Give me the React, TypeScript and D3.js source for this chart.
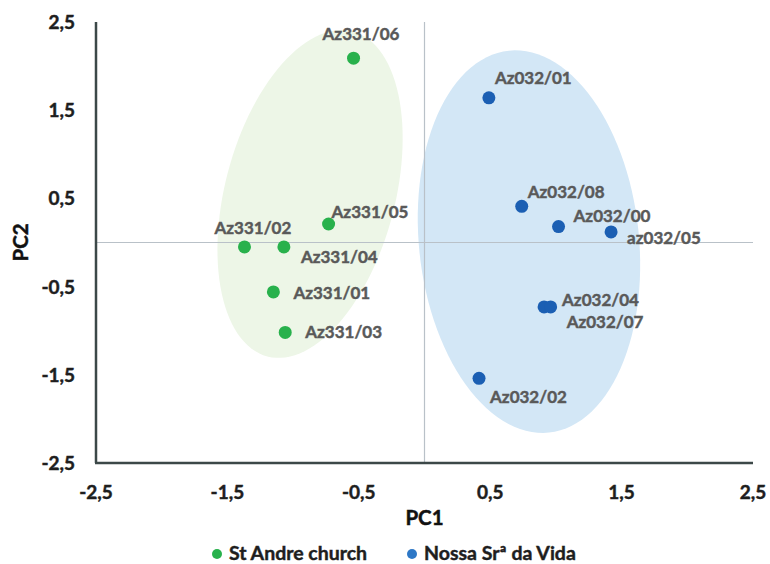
import React from "react";
import * as d3 from "d3";

// PCA scores for the two sampling groups
const stAndreNames = ["Az331/06", "Az331/05", "Az331/02", "Az331/04", "Az331/01", "Az331/03"];
const stAndrePC1 = [-0.54, -0.73, -1.37, -1.07, -1.15, -1.06];
const stAndrePC2 = [2.09, 0.21, -0.05, -0.05, -0.56, -1.02];

const nossaNames = ["Az032/01", "Az032/08", "Az032/00", "az032/05", "Az032/04", "Az032/07", "Az032/02"];
const nossaPC1 = [0.49, 0.74, 1.02, 1.42, 0.91, 0.96, 0.415];
const nossaPC2 = [1.64, 0.41, 0.18, 0.12, -0.73, -0.73, -1.54];

const seriesNames = ["St Andre church", "Nossa Srª da Vida"];
const tickValues = [-2.5, -1.5, -0.5, 0.5, 1.5, 2.5];

// label placement (pixel offsets from each point, text start / baseline)
const stAndreLabelOffsets = [[-31, -18], [3, -6], [-30, -13], [17, 16], [20, 7], [20, 6]];
const nossaLabelOffsets = [[6, -14], [6, -8], [15, -5], [16, 12], [18, -1], [16, 21], [11, 25]];

// group ellipses: centre in data units, semi-axes in px, rotation in degrees
const groupEllipses = [
  { cx: -0.871, cy: 0.55, rx: 85, ry: 168, rot: 14.7, fill: "#edf6e7" },
  { cx: 0.795, cy: 0.01, rx: 110, ry: 192, rot: -6, fill: "#d3e7f6" },
];

const W = 770;
const H = 564;
const FONT = "Lato, 'Open Sans', sans-serif";

export default function App() {
  const x = d3.scaleLinear().domain([-2.5, 2.5]).range([96, 753]);
  const y = d3.scaleLinear().domain([-2.5, 2.5]).range([463, 22]);
  const fmt = (v: number) => d3.format(".1f")(v).replace(".", ",").replace("−", "-");

  const ellipsePath = (e: typeof groupEllipses[number]) => {
    const cx = x(e.cx);
    const cy = y(e.cy);
    const r = (e.rot * Math.PI) / 180;
    const pts: [number, number][] = d3.range(0, 361, 3).map((deg) => {
      const t = (deg * Math.PI) / 180;
      const px = e.rx * Math.cos(t);
      const py = e.ry * Math.sin(t);
      return [cx + px * Math.cos(r) - py * Math.sin(r), cy + px * Math.sin(r) + py * Math.cos(r)];
    });
    return d3.line()(pts) + "Z";
  };

  const groups = [
    { names: stAndreNames, xs: stAndrePC1, ys: stAndrePC2, offs: stAndreLabelOffsets, color: "#28b14c" },
    { names: nossaNames, xs: nossaPC1, ys: nossaPC2, offs: nossaLabelOffsets, color: "#1b5fb3" },
  ];
  const legendColors = ["#28b14c", "#2e78c6"];
  const legendX = [217, 412];
  const heavy = { stroke: "currentColor", strokeWidth: 0.45, paintOrder: "stroke" } as const;

  return (
    <svg width={W} height={H} style={{ position: "absolute", left: 0, top: 0, background: "#fff" }} fontFamily={FONT}>
      {groupEllipses.map((e, i) => (
        <path key={i} d={ellipsePath(e)} fill={e.fill} />
      ))}
      {/* zero reference lines */}
      <line x1={x(0)} x2={x(0)} y1={y(2.5)} y2={y(-2.5)} stroke="#b9c1c8" strokeWidth={1.2} />
      <line x1={x(-2.5)} x2={x(2.5)} y1={y(0)} y2={y(0)} stroke="#b9c1c8" strokeWidth={1.2} />
      {/* axes */}
      <line x1={x(-2.5)} x2={x(-2.5)} y1={y(2.5)} y2={y(-2.5)} stroke="#3c4848" strokeWidth={2.5} />
      <line x1={x(-2.5) - 1} x2={x(2.5)} y1={y(-2.5)} y2={y(-2.5)} stroke="#3c4848" strokeWidth={2.5} />
      <g fontSize={19} fontWeight={700} fill="#1e1e1e" color="#1e1e1e" style={heavy}>
        {tickValues.map((v) => (
          <text key={"y" + v} x={75} y={y(v) + 7} textAnchor="end">
            {fmt(v)}
          </text>
        ))}
        {tickValues.map((v) => (
          <text key={"x" + v} x={x(v)} y={499} textAnchor="middle">
            {fmt(v)}
          </text>
        ))}
      </g>
      <text x={x(0)} y={525} textAnchor="middle" fontSize={20.5} fontWeight={700} fill="#111" color="#111" style={heavy}>PC1</text>
      <text transform={`translate(28,${y(0)}) rotate(-90)`} textAnchor="middle" fontSize={20.5} fontWeight={700} fill="#111" color="#111" style={heavy}>PC2</text>
      {groups.map((g, gi) => (
        <g key={gi}>
          {g.xs.map((v, i) => (
            <circle key={i} cx={x(v)} cy={y(g.ys[i])} r={6.5} fill={g.color} />
          ))}
          {g.xs.map((v, i) => (
            <text key={"t" + i} x={x(v) + g.offs[i][0]} y={y(g.ys[i]) + g.offs[i][1]} fontSize={17} fontWeight={700} fill="#595959" color="#595959" style={heavy}>
              {g.names[i]}
            </text>
          ))}
        </g>
      ))}
      {seriesNames.map((s, i) => (
        <g key={s}>
          <circle cx={legendX[i]} cy={554} r={5} fill={legendColors[i]} />
          <text x={legendX[i] + 12} y={560} fontSize={19.5} fontWeight={700} fill="#1e1e1e" color="#1e1e1e" style={heavy}>{s}</text>
        </g>
      ))}
    </svg>
  );
}
